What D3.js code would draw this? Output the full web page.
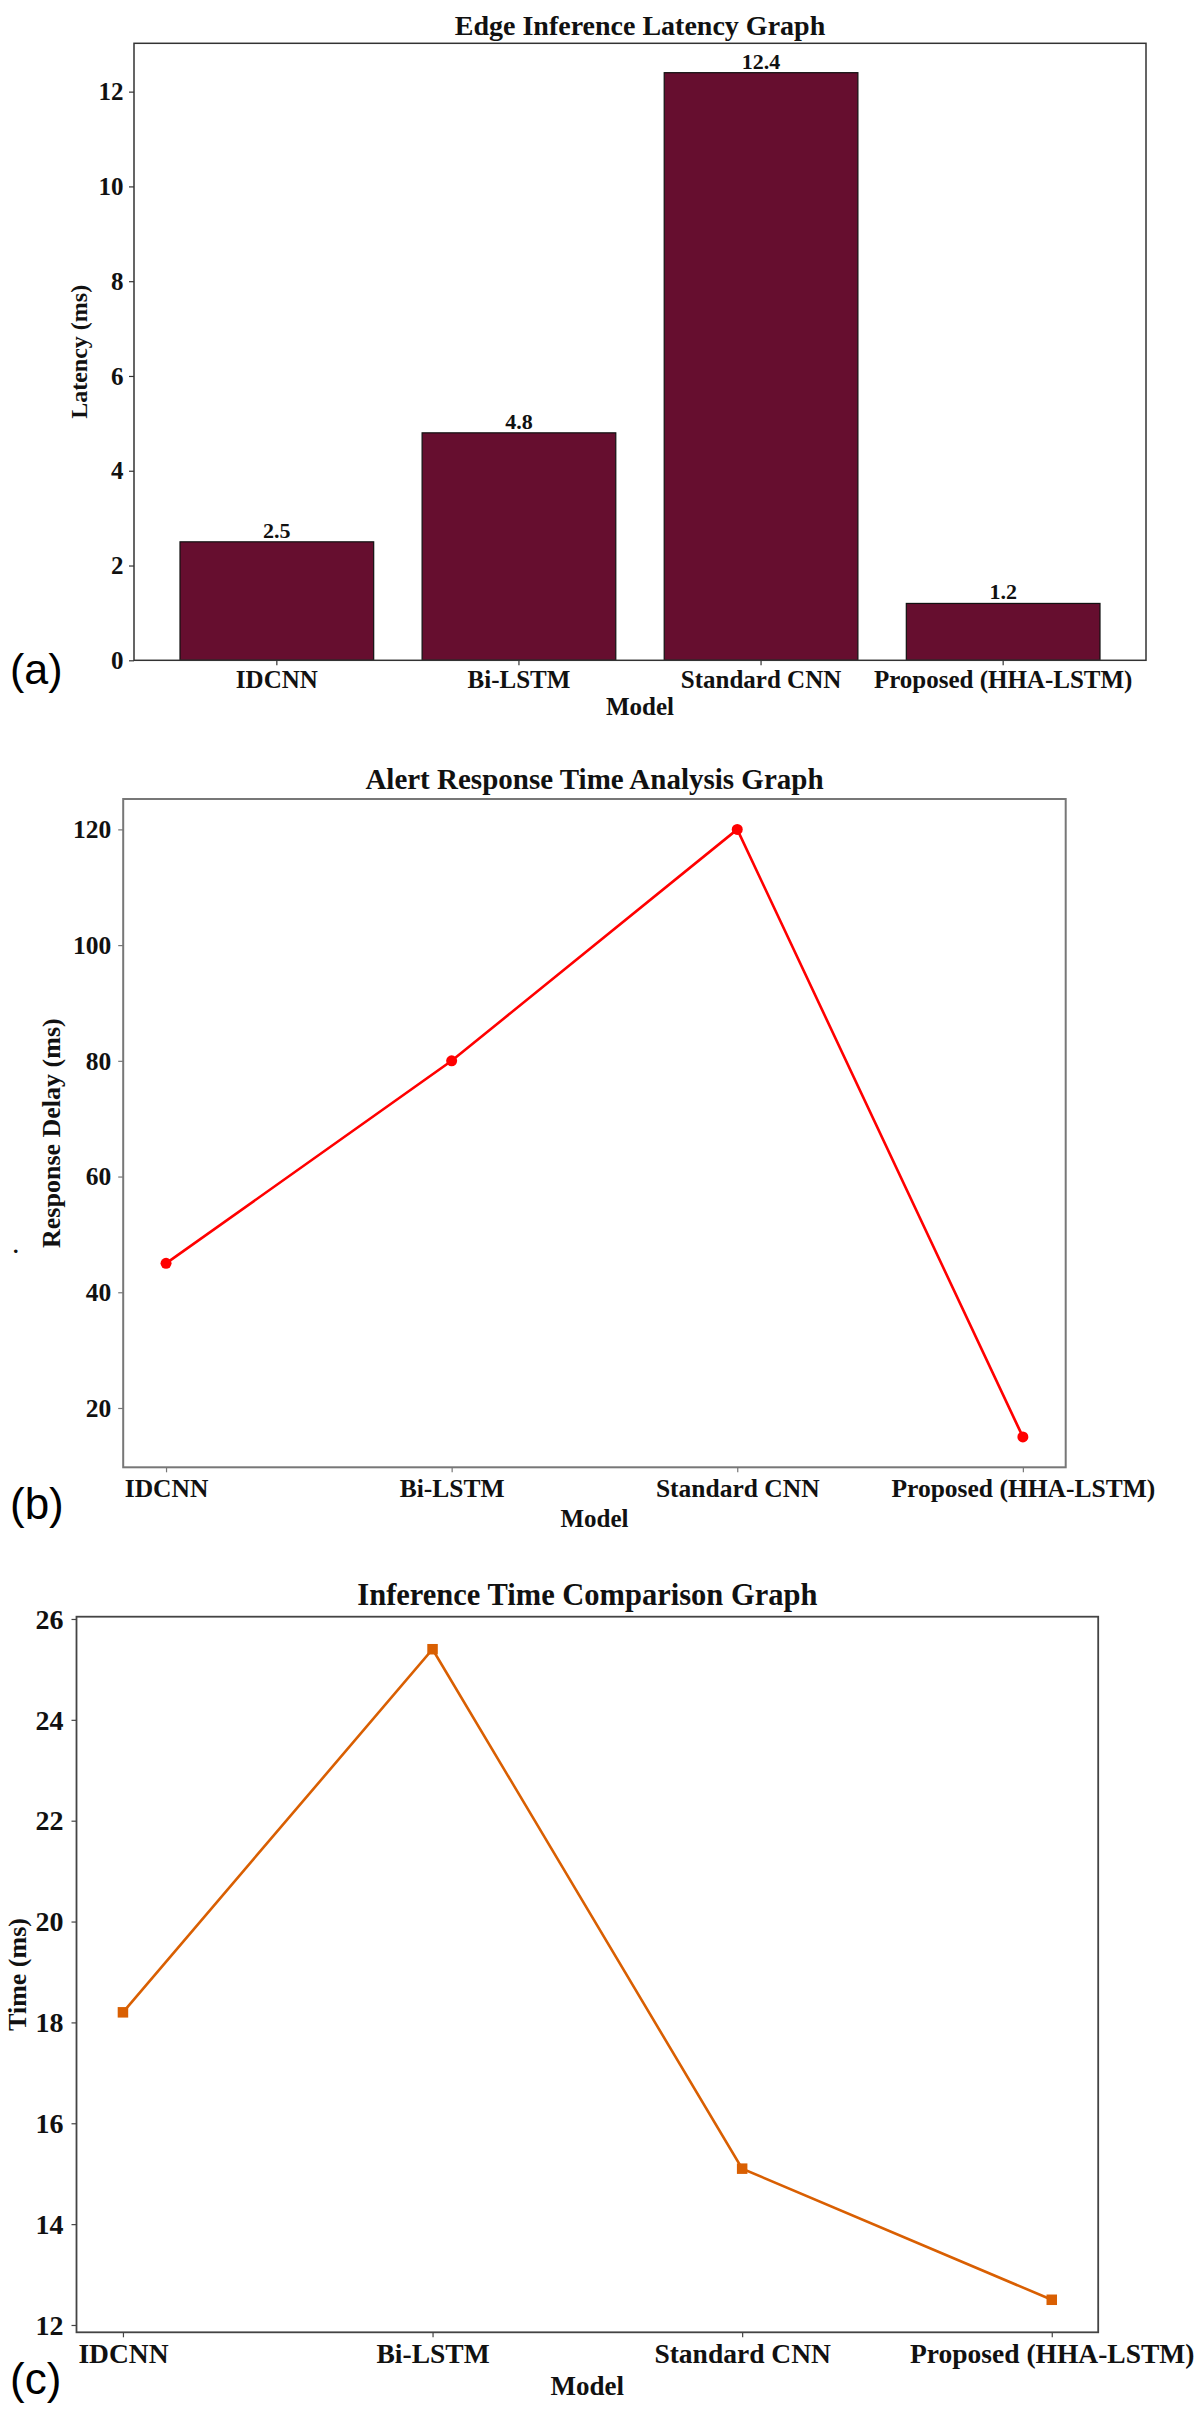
<!DOCTYPE html>
<html>
<head>
<meta charset="utf-8">
<script src="https://cdn.jsdelivr.net/npm/d3@7"></script>
<style>
  html, body { margin: 0; padding: 0; background: #fff; }
  svg { display: block; }
  text { font-family: "Liberation Serif", "Times New Roman", serif; fill: #111; }
  .bold { font-weight: bold; }
  .letter { font-family: "Liberation Sans", Arial, sans-serif; font-weight: normal; fill: #000; }
</style>
</head>
<body>
<svg id="fig" width="1200" height="2413"></svg>
<script>
// ---------------- DATA ----------------
const categories = ["IDCNN", "Bi-LSTM", "Standard CNN", "Proposed (HHA-LSTM)"];
const latencyMs = [2.5, 4.8, 12.4, 1.2];
const responseDelayMs = [45, 80, 120, 15];
const inferenceTimeMs = [18.2, 25.4, 15.1, 12.5];
const latencyTicks = [0, 2, 4, 6, 8, 10, 12];
const responseTicks = [20, 40, 60, 80, 100, 120];
const timeTicks = [12, 14, 16, 18, 20, 22, 24, 26];
const titles = ["Edge Inference Latency Graph", "Alert Response Time Analysis Graph", "Inference Time Comparison Graph"];
const yLabels = ["Latency (ms)", "Response Delay (ms)", "Time (ms)"];
const xLabel = "Model";
const panelLetters = ["(a)", "(b)", "(c)"];

// ---------------- LAYOUT ----------------
const svg = d3.select("#fig");

function frameAndAxes(g, cfg, x, y, ticks) {
  g.append("rect")
    .attr("x", cfg.left).attr("y", cfg.top)
    .attr("width", cfg.right - cfg.left).attr("height", cfg.bottom - cfg.top)
    .attr("fill", "none").attr("stroke", cfg.spine).attr("stroke-width", cfg.spineW);

  const yAxis = d3.axisLeft(y).tickValues(ticks).tickSize(5).tickSizeOuter(0)
    .tickPadding(cfg.yPad).tickFormat(d3.format("d"));
  const ya = g.append("g").attr("transform", `translate(${cfg.left},0)`).call(yAxis);
  ya.select(".domain").remove();
  ya.selectAll("line").attr("stroke", cfg.spine).attr("stroke-width", 1.2);
  ya.selectAll("text").attr("class", "bold").style("font-size", cfg.tickFont + "px")
    .attr("fill", "#111").attr("dy", "0.33em");

  const xAxis = d3.axisBottom(x).tickSize(5).tickSizeOuter(0);
  const xa = g.append("g").attr("transform", `translate(0,${cfg.bottom})`).call(xAxis);
  xa.select(".domain").remove();
  xa.selectAll("line").attr("stroke", cfg.spine).attr("stroke-width", 1.2);
  xa.selectAll("text").attr("class", "bold").style("font-size", cfg.xTickFont + "px")
    .attr("fill", "#111").attr("dy", null).attr("y", cfg.xTickBase);

  const cx = (cfg.left + cfg.right) / 2;
  g.append("text").attr("class", "bold").attr("x", cx).attr("y", cfg.titleBase)
    .attr("text-anchor", "middle").style("font-size", cfg.titleFont + "px").text(cfg.title);
  g.append("text").attr("class", "bold").attr("x", cx).attr("y", cfg.xLabelBase)
    .attr("text-anchor", "middle").style("font-size", cfg.xLabelFont + "px").text(xLabel);
  const cy = (cfg.top + cfg.bottom) / 2;
  g.append("text").attr("class", "bold")
    .attr("transform", `translate(${cfg.yLabelX},${cy}) rotate(-90)`)
    .attr("text-anchor", "middle").style("font-size", cfg.yLabelFont + "px").text(cfg.yLabel);
  g.append("text").attr("class", "letter").attr("x", cfg.letterX).attr("y", cfg.letterBase)
    .style("font-size", cfg.letterFont + "px").text(cfg.letter);
}

// ---------- Panel (a): bar chart ----------
(function () {
  const cfg = {
    left: 134, right: 1146, top: 43.3, bottom: 660.3,
    spine: "#333", spineW: 1.5, yPad: 5.5, tickFont: 25, xTickFont: 25, xTickBase: 28,
    titleBase: 35, titleFont: 28, title: titles[0],
    xLabelBase: 715, xLabelFont: 25, yLabelX: 87, yLabelFont: 24, yLabel: yLabels[0],
    letterX: 10, letterBase: 684, letterFont: 43, letter: panelLetters[0]
  };
  const g = svg.append("g");
  const x = d3.scaleBand().domain(categories).range([cfg.left, cfg.right])
    .paddingInner(0.2).paddingOuter(0.19);
  const y = d3.scaleLinear().domain([0, d3.max(latencyMs) * 1.05]).range([cfg.bottom, cfg.top]);

  g.selectAll("rect.bar").data(latencyMs).enter().append("rect").attr("class", "bar")
    .attr("x", (d, i) => x(categories[i]))
    .attr("y", d => y(d))
    .attr("width", x.bandwidth())
    .attr("height", d => y(0) - y(d))
    .attr("fill", "#660e2f").attr("stroke", "#111").attr("stroke-width", 1.2);

  g.selectAll("text.val").data(latencyMs).enter().append("text").attr("class", "val bold")
    .attr("x", (d, i) => x(categories[i]) + x.bandwidth() / 2)
    .attr("y", d => y(d) - 4)
    .attr("text-anchor", "middle").style("font-size", "22px").style("font-weight", "bold")
    .text(d => d3.format(".1f")(d));

  frameAndAxes(g, cfg, x, y, latencyTicks);
})();

// ---------- Panel (b): red line with circles ----------
(function () {
  const cfg = {
    left: 123.2, right: 1065.7, top: 799, bottom: 1467.3,
    spine: "#777", spineW: 2, yPad: 7, tickFont: 25.5, xTickFont: 25.5, xTickBase: 29.4,
    titleBase: 789.3, titleFont: 29, title: titles[1],
    xLabelBase: 1526.7, xLabelFont: 25, yLabelX: 59.5, yLabelFont: 26, yLabel: yLabels[1],
    letterX: 10, letterBase: 1519, letterFont: 44, letter: panelLetters[1]
  };
  const g = svg.append("g");
  const x = d3.scalePoint().domain(categories).range([cfg.left, cfg.right]).padding(0.15);
  const lo = d3.min(responseDelayMs), hi = d3.max(responseDelayMs), m = (hi - lo) * 0.05;
  const y = d3.scaleLinear().domain([lo - m, hi + m]).range([cfg.bottom, cfg.top]);

  const line = d3.line().x((d, i) => x(categories[i])).y(d => y(d));
  g.append("path").datum(responseDelayMs).attr("d", line)
    .attr("fill", "none").attr("stroke", "#ff0000").attr("stroke-width", 2.6);
  g.selectAll("circle").data(responseDelayMs).enter().append("circle")
    .attr("cx", (d, i) => x(categories[i])).attr("cy", d => y(d)).attr("r", 5.5)
    .attr("fill", "#ff0000");

  frameAndAxes(g, cfg, x, y, responseTicks);
  // stray dot present in the original figure
  g.append("text").attr("class", "bold").attr("x", 13).attr("y", 1253)
    .style("font-size", "22px").text(".");
})();

// ---------- Panel (c): orange line with squares ----------
(function () {
  const cfg = {
    left: 76.5, right: 1098.2, top: 1616.7, bottom: 2332.3,
    spine: "#444", spineW: 1.8, yPad: 8, tickFont: 28, xTickFont: 27.5, xTickBase: 30.4,
    titleBase: 1605, titleFont: 30.5, title: titles[2],
    xLabelBase: 2395, xLabelFont: 27, yLabelX: 25.5, yLabelFont: 26, yLabel: yLabels[2],
    letterX: 10, letterBase: 2394, letterFont: 44, letter: panelLetters[2]
  };
  const g = svg.append("g");
  const x = d3.scalePoint().domain(categories).range([cfg.left, cfg.right]).padding(0.15);
  const lo = d3.min(inferenceTimeMs), hi = d3.max(inferenceTimeMs), m = (hi - lo) * 0.05;
  const y = d3.scaleLinear().domain([lo - m, hi + m]).range([cfg.bottom, cfg.top]);

  const line = d3.line().x((d, i) => x(categories[i])).y(d => y(d));
  g.append("path").datum(inferenceTimeMs).attr("d", line)
    .attr("fill", "none").attr("stroke", "#d95f02").attr("stroke-width", 2.6);
  const s = 10.5;
  g.selectAll("rect.mk").data(inferenceTimeMs).enter().append("rect").attr("class", "mk")
    .attr("x", (d, i) => x(categories[i]) - s / 2).attr("y", d => y(d) - s / 2)
    .attr("width", s).attr("height", s).attr("fill", "#d95f02");

  frameAndAxes(g, cfg, x, y, timeTicks);
})();
</script>
</body>
</html>
